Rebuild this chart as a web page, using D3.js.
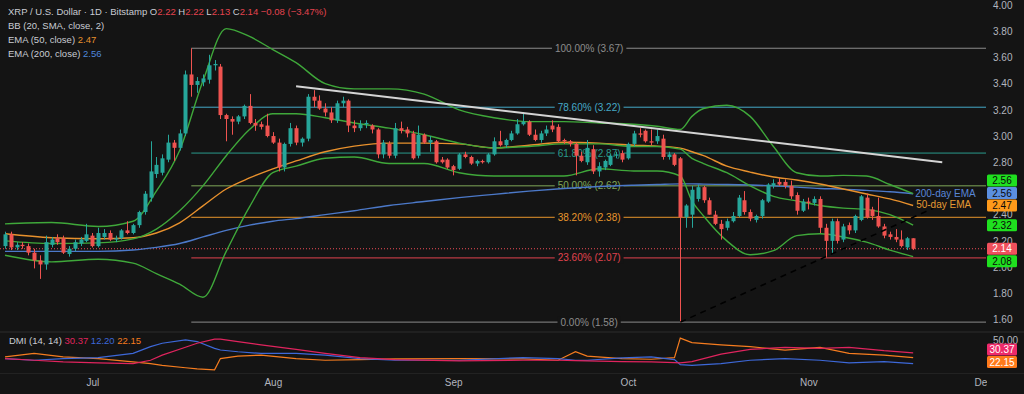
<!DOCTYPE html>
<html>
<head>
<meta charset="utf-8">
<title>XRP / U.S. Dollar 1D</title>
<script src="https://d3js.org/d3.v7.min.js"></script>
<style>
  html, body { margin: 0; background: #141414; overflow: hidden; }
  svg { display: block; font-family: "Liberation Sans", Arial, sans-serif; }
</style>
</head>
<body>
<svg id="chart" width="1024" height="394"></svg>
<script>
// ---- data ----
const startDay = "2025-06-16";   // first candle, one candle per day

const opens = [2.16,2.25,2.15,2.17,2.16,2.11,2.05,2.02,2.17,2.22,2.22,2.10,2.14,2.18,2.20,2.24,2.16,2.23,2.26,2.21,
  2.22,2.28,2.26,2.32,2.42,2.53,2.71,2.72,2.82,2.95,2.91,3.02,3.47,3.39,3.41,3.43,3.54,3.53,3.16,3.13,
  3.11,3.15,3.23,3.10,3.09,3.08,3.00,2.95,2.76,2.94,3.06,2.95,2.98,3.30,3.27,3.21,3.18,3.12,3.25,3.27,
  3.08,3.06,3.09,3.08,3.05,2.86,2.94,2.85,3.06,3.05,3.02,2.85,3.01,2.95,2.96,2.82,2.82,2.77,2.75,2.86,
  2.84,2.79,2.81,2.80,2.86,2.96,2.93,2.97,3.02,3.09,3.11,3.01,2.97,3.02,3.08,3.07,2.97,2.96,2.94,2.85,
  2.80,2.90,2.73,2.76,2.78,2.85,2.87,2.83,2.94,3.02,3.04,2.96,2.96,2.98,2.84,2.86,2.83,2.38,2.40,2.52,
  2.61,2.51,2.40,2.33,2.30,2.35,2.39,2.51,2.42,2.36,2.39,2.50,2.62,2.65,2.65,2.62,2.55,2.43,2.50,2.49,
  2.52,2.30,2.20,2.35,2.21,2.32,2.28,2.36,2.53,2.44,2.39,2.31,2.25,2.23,2.21,2.15,2.22];
const highs = [2.27,2.27,2.19,2.19,2.18,2.14,2.09,2.24,2.23,2.25,2.24,2.16,2.21,2.23,2.33,2.26,2.30,2.29,2.28,2.24,
  2.29,2.35,2.33,2.43,2.58,2.96,2.84,2.86,3.01,2.97,3.05,3.50,3.67,3.45,3.47,3.62,3.58,3.55,3.17,3.15,
  3.16,3.24,3.32,3.13,3.11,3.17,3.03,2.98,2.95,3.10,3.08,2.99,3.32,3.35,3.31,3.25,3.22,3.27,3.30,3.28,
  3.12,3.12,3.12,3.09,3.06,2.97,2.96,3.10,3.11,3.07,3.04,3.08,3.02,3.00,2.97,2.84,2.83,2.78,2.87,2.88,
  2.85,2.82,2.82,2.87,2.99,3.04,2.98,3.04,3.13,3.18,3.12,3.05,3.04,3.08,3.12,3.09,2.98,2.97,2.95,2.88,
  2.97,2.93,2.80,2.82,2.86,2.88,2.89,2.95,3.04,3.06,3.05,3.05,3.05,3.01,2.88,2.87,2.84,2.48,2.62,2.63,
  2.62,2.53,2.43,2.36,2.37,2.42,2.55,2.58,2.44,2.40,2.52,2.64,2.67,2.68,2.67,2.66,2.57,2.52,2.53,2.54,
  2.54,2.33,2.37,2.37,2.33,2.34,2.40,2.55,2.56,2.46,2.53,2.33,2.27,2.29,2.28,2.23,2.22];
const lows = [2.14,2.13,2.13,2.14,2.09,1.99,1.91,1.98,2.15,2.17,2.10,2.08,2.12,2.16,2.19,2.15,2.15,2.21,2.20,2.19,
  2.21,2.25,2.25,2.30,2.40,2.50,2.68,2.70,2.80,2.81,2.89,3.00,3.30,3.33,3.38,3.40,3.50,3.13,2.96,3.01,
  3.09,3.13,3.09,3.04,3.05,2.99,2.94,2.73,2.73,2.92,2.93,2.92,2.96,3.22,3.20,3.15,3.10,3.10,3.22,3.03,
  3.03,3.04,3.06,3.02,2.83,2.83,2.83,2.83,3.02,2.99,2.82,2.83,2.94,2.88,2.79,2.79,2.75,2.70,2.74,2.83,
  2.78,2.77,2.79,2.79,2.85,2.92,2.91,2.96,3.01,3.08,3.00,2.96,2.95,3.00,3.03,2.95,2.94,2.92,2.70,2.80,
  2.78,2.71,2.69,2.74,2.77,2.83,2.80,2.82,2.92,2.99,2.95,2.93,2.94,2.82,2.82,2.77,1.58,2.30,2.30,2.50,
  2.49,2.40,2.32,2.21,2.28,2.34,2.38,2.40,2.35,2.34,2.37,2.49,2.60,2.62,2.60,2.52,2.40,2.42,2.44,2.47,
  2.26,2.07,2.10,2.18,2.19,2.25,2.26,2.35,2.37,2.36,2.30,2.22,2.21,2.19,2.15,2.13,2.13];
const closes = [2.25,2.15,2.17,2.16,2.11,2.05,2.02,2.19,2.21,2.19,2.11,2.14,2.19,2.21,2.25,2.16,2.26,2.26,2.21,2.22,
  2.28,2.26,2.32,2.42,2.56,2.73,2.78,2.83,2.95,2.91,3.02,3.47,3.39,3.42,3.44,3.54,3.55,3.16,3.13,3.11,
  3.15,3.23,3.10,3.08,3.07,3.00,2.95,2.76,2.94,3.06,2.95,2.98,3.30,3.27,3.21,3.18,3.12,3.25,3.27,3.08,
  3.06,3.09,3.10,3.05,2.86,2.95,2.85,3.06,3.04,3.02,2.83,3.01,2.95,2.97,2.80,2.80,2.76,2.74,2.86,2.84,
  2.79,2.81,2.80,2.86,2.96,2.93,2.97,3.02,3.09,3.11,3.01,2.97,3.02,3.05,3.05,2.96,2.96,2.94,2.85,2.81,
  2.91,2.73,2.77,2.81,2.85,2.86,2.82,2.94,3.02,3.01,2.96,2.95,3.00,2.84,2.86,2.78,2.38,2.47,2.59,2.61,
  2.51,2.40,2.33,2.29,2.35,2.39,2.53,2.42,2.37,2.39,2.51,2.63,2.64,2.63,2.62,2.54,2.43,2.50,2.49,2.52,
  2.30,2.20,2.35,2.20,2.31,2.28,2.39,2.54,2.38,2.39,2.31,2.24,2.23,2.21,2.16,2.22,2.14];

// indicator lines, sampled at these candle numbers
const indDays = [0,8,16,22,26,30,34,38,42,46,50,55,60,66,72,78,84,90,96,102,108,112,116,118,120,124,128,132,136,140,144,148,152,156];
const bbUpper = [2.33,2.34,2.31,2.35,2.58,2.89,3.42,3.82,3.76,3.66,3.56,3.40,3.36,3.36,3.32,3.20,3.14,3.11,3.11,3.10,3.09,3.075,3.05,3.15,3.21,3.235,3.15,2.92,2.72,2.695,2.70,2.695,2.63,2.56];
const bbBasis = [2.20,2.18,2.185,2.215,2.29,2.43,2.62,2.85,3.05,3.17,3.17,3.14,3.10,3.06,3.01,2.946,2.91,2.92,2.94,2.94,2.92,2.92,2.90,2.83,2.79,2.72,2.62,2.54,2.505,2.47,2.45,2.44,2.40,2.32];
const bbLower = [2.09,2.04,2.06,2.03,1.95,1.87,1.77,2.12,2.46,2.72,2.77,2.83,2.84,2.79,2.79,2.72,2.695,2.695,2.695,2.75,2.733,2.733,2.695,2.505,2.39,2.20,2.094,2.125,2.24,2.254,2.23,2.19,2.13,2.08];
const ema50 = [2.254,2.224,2.216,2.224,2.26,2.338,2.467,2.596,2.68,2.75,2.81,2.88,2.923,2.946,2.946,2.94,2.91,2.93,2.953,2.946,2.93,2.923,2.908,2.88,2.85,2.77,2.725,2.687,2.665,2.634,2.596,2.558,2.52,2.47];
const ema200 = [2.12,2.12,2.12,2.13,2.15,2.18,2.23,2.28,2.32,2.35,2.37,2.40,2.43,2.47,2.50,2.53,2.555,2.58,2.60,2.615,2.625,2.63,2.635,2.635,2.633,2.63,2.626,2.62,2.61,2.60,2.595,2.585,2.575,2.56];

// DMI (14, 14)
const dmiDays = [0,5,10,16,22,25,27,31,33,36,37,40,44,50,55,61,67,78,89,95,98,100,106,111,115,116,118,123,128,134,140,145,151,156];
const adx = [20.7,17.9,15.1,13.4,12.2,17.9,26.4,39.5,46.3,53.1,53.0,49.1,43.5,36.1,29.3,22.4,19.0,16.8,17.9,17.9,17.3,16.8,15.6,15.1,13.9,13.4,15.6,28.1,36.1,39.5,37.8,39.5,33.8,30.37];
const plusDI = [20.7,17.9,20.7,22.4,29.3,40.6,46.3,52.0,49.1,37.8,35.0,32.1,29.3,29.3,26.4,20.7,17.9,17.9,22.4,20.7,17.9,17.9,21.9,23.6,19.0,10.5,9.4,12.2,17.9,20.7,17.9,13.4,15.6,12.20];
const minusDI = [23.6,29.3,23.6,20.7,15.1,12.2,9.4,5.4,3.7,2.0,20.7,24.7,26.4,20.7,17.9,19.0,20.2,20.7,20.2,17.9,32.1,24.7,20.7,19.6,22.4,54.8,47.4,43.5,40.6,34.9,39.5,29.3,26.4,22.15];

// fibonacci retracement, high Jul 18 -> low Oct 10
const fibStartDay = 32;
const fibPct = ["0.00%","23.60%","38.20%","50.00%","61.80%","78.60%","100.00%"];
const fibPrices = [1.58,2.07,2.38,2.62,2.87,3.22,3.67];

// drawn lines [candle number, price]
const trendLine = [[50,3.38],[161,2.80]];
const supportLine = [[116,1.58],[159.5,2.45]];

const priceTicks = [1.6,1.8,2.0,2.2,2.4,2.8,3.0,3.2,3.4,3.6,3.8,4.0];
const lastPrice = 2.14;
const tagValues = [2.56, 2.56, 2.47, 2.32, 2.14, 2.08];
const tagKinds  = ["bb", "ema200", "ema50", "bb", "price", "bb"];
const dmiTagValues = [30.37, 22.15];
const dmiTagKinds = ["adx", "minus"];

// ---- layout ----
const svg = d3.select("#chart");
const bg = "#141414";
const plotW = 986;
const colors = {
  up: "#26a69a", down: "#ef5350", bb: "#3fa83a", ema50: "#e8912d", ema200: "#4c79c9",
  text: "#c9ccd3", axis: "#b2b5be", red: "#e5434f", price: "#ef4c58",
  adx: "#e0245e", plus: "#3d68d8", minus: "#f57c1f"
};
const fibColors = ["#8c8c8c","#e2434f","#e8962c","#7fa858","#2a9a8c","#45a9c8","#8c8c8c"];
const tagFill = { bb: "#1fe01f", ema200: "#5b8fe0", ema50: "#ff9a1a", price: "#f0505c", adx: "#ee2a6a", minus: "#ff7a1a" };
const tagText = { bb: "#0a0a0a", ema200: "#0a0a0a", ema50: "#0a0a0a", price: "#ffffff", adx: "#ffffff", minus: "#ffffff" };

const t0 = d3.utcParse("%Y-%m-%d")(startDay);
const dayDate = i => new Date(t0.getTime() + i * 864e5);

const x = d3.scaleUtc()
  .domain([t0, new Date(Date.UTC(2025, 11, 1))])
  .range([5, 983]);
const y = d3.scaleLinear().domain([1.6, 4.0]).range([319.5, 5]);
const yDmi = d3.scaleLinear().domain([0, 50]).range([371, 341]);

svg.append("rect").attr("width", 1024).attr("height", 394).attr("fill", bg);

const defs = svg.append("defs");
defs.append("clipPath").attr("id", "mainClip").append("rect")
  .attr("x", 0).attr("y", 0).attr("width", plotW).attr("height", 331);
defs.append("clipPath").attr("id", "dmiClip").append("rect")
  .attr("x", 0).attr("y", 333).attr("width", plotW).attr("height", 40);
defs.append("clipPath").attr("id", "timeClip").append("rect")
  .attr("x", 0).attr("y", 373).attr("width", 987).attr("height", 21);

// pane separators
svg.append("line").attr("x1", 0).attr("x2", 1024).attr("y1", 332).attr("y2", 332)
  .attr("stroke", "#2c2c2c");
svg.append("line").attr("x1", 0).attr("x2", 1024).attr("y1", 373.5).attr("y2", 373.5)
  .attr("stroke", "#222");

const main = svg.append("g").attr("clip-path", "url(#mainClip)");

// fib levels
const fibEnd = x.range()[1] + 4;
const fibX0 = x(dayDate(fibStartDay));
const fibMid = (fibX0 + fibEnd) / 2;
fibPrices.forEach((p, k) => {
  main.append("line")
    .attr("x1", fibX0).attr("x2", fibEnd)
    .attr("y1", y(p)).attr("y2", y(p))
    .attr("stroke", fibColors[k]).attr("stroke-width", 1);
  const label = `${fibPct[k]} (${p.toFixed(2)})`;
  const t = main.append("text")
    .attr("x", fibMid).attr("y", y(p) + 3.5)
    .attr("text-anchor", "middle")
    .attr("font-size", 10).attr("fill", fibColors[k])
    .text(label);
  const b = t.node().getBBox();
  main.insert("rect", () => t.node())
    .attr("x", b.x - 3).attr("y", b.y).attr("width", b.width + 6).attr("height", b.height)
    .attr("fill", bg);
});

// last price dotted line
main.append("line")
  .attr("x1", 0).attr("x2", plotW)
  .attr("y1", y(lastPrice)).attr("y2", y(lastPrice))
  .attr("stroke", colors.price).attr("stroke-width", 1)
  .attr("stroke-dasharray", "1,2");

// indicator lines
const indLine = d3.line()
  .x(d => x(dayDate(d[0])))
  .y(d => y(d[1]))
  .curve(d3.curveMonotoneX);
const series = (vals) => indDays.map((d, k) => [d, vals[k]]);

[[ema200, colors.ema200], [ema50, colors.ema50],
 [bbUpper, colors.bb], [bbBasis, colors.bb], [bbLower, colors.bb]].forEach(([vals, c]) => {
  main.append("path")
    .datum(series(vals))
    .attr("d", indLine)
    .attr("fill", "none")
    .attr("stroke", c)
    .attr("stroke-width", 1.4);
});

// candles
const candles = closes.map((c, i) => ({ i, o: opens[i], h: highs[i], l: lows[i], c }));
const cg = main.append("g").selectAll("g")
  .data(candles)
  .join("g");
cg.append("line")
  .attr("x1", d => Math.round(x(dayDate(d.i))) + 0.5)
  .attr("x2", d => Math.round(x(dayDate(d.i))) + 0.5)
  .attr("y1", d => y(d.h))
  .attr("y2", d => y(d.l))
  .attr("stroke", d => d.c >= d.o ? colors.up : colors.down)
  .attr("stroke-width", 1);
cg.append("rect")
  .attr("x", d => Math.round(x(dayDate(d.i))) - 1.5)
  .attr("width", 4)
  .attr("y", d => y(Math.max(d.o, d.c)))
  .attr("height", d => Math.max(1, Math.abs(y(d.o) - y(d.c))))
  .attr("fill", d => d.c >= d.o ? colors.up : colors.down);

// trend line and dashed support
const lineXY = d3.line().x(d => x(dayDate(d[0]))).y(d => y(d[1]));
main.append("path").datum(trendLine).attr("d", lineXY)
  .attr("stroke", "#d4d4d4").attr("stroke-width", 2).attr("fill", "none");
main.append("path").datum(supportLine).attr("d", lineXY)
  .attr("stroke", "#000").attr("stroke-width", 1.6).attr("fill", "none")
  .attr("stroke-dasharray", "6,5");

// EMA annotations
const lastDay = closes.length - 1;
main.append("text")
  .attr("x", x(dayDate(lastDay)) + 2).attr("y", y(ema200[ema200.length - 1]) + 3)
  .attr("font-size", 10).attr("fill", "#5a86d6").text("200-day EMA");
main.append("text")
  .attr("x", x(dayDate(lastDay)) + 3).attr("y", y(ema50[ema50.length - 1]) + 3)
  .attr("font-size", 10).attr("fill", "#e59a33").text("50-day EMA");

// price axis
const yAxis = svg.append("g")
  .attr("transform", `translate(${plotW},0)`)
  .call(d3.axisRight(y).tickValues(priceTicks).tickFormat(d3.format(".2f")).tickSize(0).tickPadding(7));
yAxis.select(".domain").remove();
yAxis.selectAll("text").attr("fill", colors.axis).attr("font-size", 10)
  .attr("font-family", "Liberation Sans, Arial, sans-serif");

// value tags on the price axis: the last-price tag stays put,
// tags above it are pushed upward, tags below it downward
function placeTags(vals, kinds, scale, h) {
  const items = vals.map((v, k) => ({ k, v, y: scale(v) }));
  const pivot = kinds.indexOf("price");
  const pivotY = pivot >= 0 ? items[pivot].y : Infinity;
  const above = items.filter(d => d.y < pivotY).sort((a, b) => (b.y - a.y) || (b.k - a.k));
  const below = items.filter(d => d.y > pivotY).sort((a, b) => (a.y - b.y) || (a.k - b.k));
  let limit = pivot >= 0 ? pivotY - h : Infinity;
  above.forEach(d => { if (d.y > limit) d.y = limit; limit = d.y - h; });
  limit = pivotY + h;
  below.forEach(d => { if (d.y < limit) d.y = limit; limit = d.y + h; });
  return items;
}
function drawTags(vals, kinds, scale) {
  const items = placeTags(vals, kinds, scale, 12.5);
  const g = svg.append("g");
  items.forEach(d => {
    g.append("rect").attr("x", plotW + 1).attr("y", d.y - 6).attr("width", 30).attr("height", 12)
      .attr("rx", 1.5).attr("fill", tagFill[kinds[d.k]]);
    g.append("text").attr("x", plotW + 16).attr("y", d.y + 3.7)
      .attr("text-anchor", "middle").attr("font-size", 10)
      .attr("fill", tagText[kinds[d.k]]).text(d.v.toFixed(2));
  });
}
drawTags(tagValues, tagKinds, y);

// DMI pane
const dmi = svg.append("g").attr("clip-path", "url(#dmiClip)");
const dmiLine = d3.line().x(d => x(dayDate(d[0]))).y(d => yDmi(d[1]));
[[minusDI, colors.minus], [plusDI, colors.plus], [adx, colors.adx]].forEach(([vals, c]) => {
  dmi.append("path")
    .datum(dmiDays.map((d, k) => [d, vals[k]]))
    .attr("d", dmiLine)
    .attr("fill", "none").attr("stroke", c).attr("stroke-width", 1.2);
});
svg.append("text").attr("x", plotW + 7).attr("y", yDmi(50) + 2.5)
  .attr("font-size", 10).attr("fill", colors.axis).text("50.00");
// the two DMI tags sit stacked under the 50.00 label
drawTags(dmiTagValues, dmiTagKinds, d => yDmi(d) + (d > 25 ? -3 : 4.3));

const dmiTitle = svg.append("text").attr("x", 9).attr("y", 344).attr("font-size", 9.5).attr("fill", colors.text);
dmiTitle.append("tspan").text("DMI (14, 14)  ");
dmiTitle.append("tspan").attr("fill", colors.adx).text(adx[adx.length - 1].toFixed(2) + "  ");
dmiTitle.append("tspan").attr("fill", colors.plus).text(plusDI[plusDI.length - 1].toFixed(2) + "  ");
dmiTitle.append("tspan").attr("fill", colors.minus).text(minusDI[minusDI.length - 1].toFixed(2));

// time axis
const xAxis = svg.append("g")
  .attr("clip-path", "url(#timeClip)")
  .append("g")
  .attr("transform", "translate(0,376)")
  .call(d3.axisBottom(x).ticks(d3.utcMonth.every(1)).tickFormat(d3.utcFormat("%b")).tickSize(0).tickPadding(3));
xAxis.select(".domain").remove();
xAxis.selectAll("text").attr("fill", colors.axis).attr("font-size", 10)
  .attr("font-family", "Liberation Sans, Arial, sans-serif");

// legend header
const last = candles[lastDay];
const head = svg.append("g").attr("font-size", 9.5).attr("fill", colors.text);
const l1 = head.append("text").attr("x", 8).attr("y", 15);
l1.append("tspan").text("XRP / U.S. Dollar · 1D · Bitstamp  O");
l1.append("tspan").attr("fill", colors.red).text(last.o.toFixed(2));
l1.append("tspan").text(" H");
l1.append("tspan").attr("fill", colors.red).text(last.h.toFixed(2));
l1.append("tspan").text(" L");
l1.append("tspan").attr("fill", colors.red).text(last.l.toFixed(2));
l1.append("tspan").text(" C");
l1.append("tspan").attr("fill", colors.red).text(last.c.toFixed(2) + " −0.08 (−3.47%)");
head.append("text").attr("x", 8).attr("y", 29).text("BB (20, SMA, close, 2)");
const l3 = head.append("text").attr("x", 8).attr("y", 43);
l3.append("tspan").text("EMA (50, close)  ");
l3.append("tspan").attr("fill", colors.ema50).text(ema50[ema50.length - 1].toFixed(2));
const l4 = head.append("text").attr("x", 8).attr("y", 57);
l4.append("tspan").text("EMA (200, close)  ");
l4.append("tspan").attr("fill", "#4f86da").text(ema200[ema200.length - 1].toFixed(2));
</script>
</body>
</html>
